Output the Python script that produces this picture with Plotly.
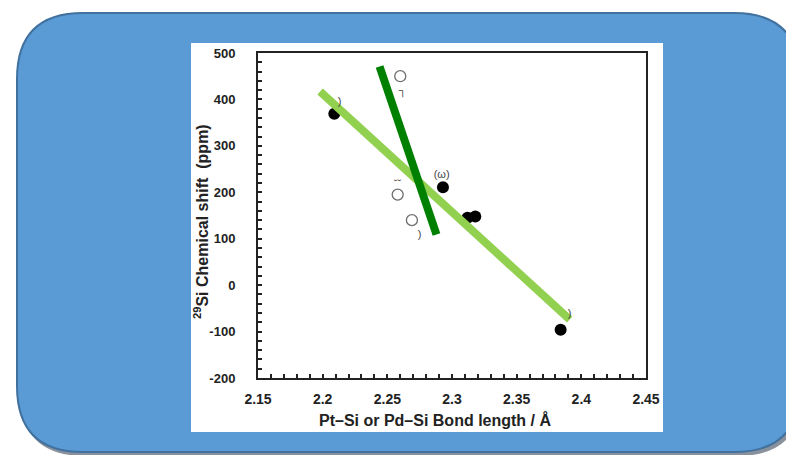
import plotly.graph_objects as go

# ---- data ----
filled_x = [2.209, 2.293, 2.312, 2.318, 2.384]
filled_y = [369, 211, 145, 148, -96]
open_x = [2.260, 2.258, 2.269]
open_y = [450, 195, 140]
fit_pt_x = [2.198, 2.391]
fit_pt_y = [417, -74]
fit_pd_x = [2.244, 2.288]
fit_pd_y = [471, 109]
x_ticks = [2.15, 2.2, 2.25, 2.3, 2.35, 2.4, 2.45]
x_tick_labels = ["2.15", "2.2", "2.25", "2.3", "2.35", "2.4", "2.45"]
y_ticks = [-200, -100, 0, 100, 200, 300, 400, 500]
y_tick_labels = ["-200", "-100", "0", "100", "200", "300", "400", "500"]
frag_x = [2.213, 2.292, 2.262, 2.258, 2.275, 2.391]
frag_y = [393, 236, 418, 218, 108, -62]
frag_text = [")", "(\u03c9)", "\u2510", "\u02d8\u02d8", ")", ")"]

# page body has an 8px margin in the browser: work in page pixels and shift
OFF = 8
W, H = 794 - OFF, 455 - OFF
L, R, T, B = 258, 646, 53, 378  # plot area in page pixels


def px(x):
    return (x - L) / (R - L)


def py(y):
    return (B - y) / (B - T)


def rr_path(x0, y0, x1, y1, r):
    return (f"M {px(x0 + r)},{py(y0)} L {px(x1 - r)},{py(y0)} "
            f"Q {px(x1)},{py(y0)} {px(x1)},{py(y0 + r)} "
            f"L {px(x1)},{py(y1 - r)} Q {px(x1)},{py(y1)} {px(x1 - r)},{py(y1)} "
            f"L {px(x0 + r)},{py(y1)} Q {px(x0)},{py(y1)} {px(x0)},{py(y1 - r)} "
            f"L {px(x0)},{py(y0 + r)} Q {px(x0)},{py(y0)} {px(x0 + r)},{py(y0)} Z")


FONT = "Liberation Sans, Arial, sans-serif"
fig = go.Figure()

fig.add_trace(go.Scatter(x=open_x, y=open_y, mode="markers",
                         marker=dict(symbol="circle", size=11, color="white",
                                     line=dict(color="#6e6e6e", width=1.3)),
                         showlegend=False))
fig.add_trace(go.Scatter(x=filled_x, y=filled_y, mode="markers",
                         marker=dict(symbol="circle", size=12, color="black"),
                         showlegend=False))
fig.add_trace(go.Scatter(x=fit_pt_x, y=fit_pt_y, mode="lines",
                         line=dict(color="#92D050", width=8), showlegend=False))
fig.add_trace(go.Scatter(x=fit_pd_x, y=fit_pd_y, mode="lines",
                         line=dict(color="#008000", width=8), showlegend=False))
fig.add_trace(go.Scatter(x=frag_x, y=frag_y, mode="text", text=frag_text,
                         textfont=dict(size=11, color="#444", family=FONT),
                         showlegend=False, hoverinfo="skip"))

shapes = [
    dict(type="path", xref="paper", yref="paper", path=rr_path(19, 15, 803, 456, 66),
         fillcolor="rgba(40,55,75,0.55)", line=dict(width=0), layer="below"),
    dict(type="path", xref="paper", yref="paper", path=rr_path(17, 13, 800, 452, 66),
         fillcolor="#5B9BD5", line=dict(color="#40719F", width=2), layer="below"),
    dict(type="rect", xref="paper", yref="paper", x0=px(191), x1=px(663), y0=py(432), y1=py(43),
         fillcolor="white", line=dict(width=0), layer="below"),
]

fig.update_layout(
    width=W, height=H,
    margin=dict(l=L - OFF, r=794 - R, t=T - OFF, b=455 - B),
    paper_bgcolor="white",
    plot_bgcolor="rgba(0,0,0,0)",
    shapes=shapes,
    font=dict(family=FONT, color="#222"),
    annotations=[
        dict(text="<sup>29</sup>Si Chemical shift  (ppm)", xref="paper", yref="paper",
             x=px(201), y=py(222), textangle=-90, showarrow=False,
             font=dict(size=16, color="#222", family=FONT, weight="bold"),
             xanchor="center", yanchor="middle"),
        dict(text="Pt\u2013Si or Pd\u2013Si Bond length / \u00c5", xref="paper", yref="paper",
             x=px(435), y=py(420), showarrow=False,
             font=dict(size=16, color="#222", family=FONT, weight="bold"),
             xanchor="center", yanchor="middle"),
    ],
)

fig.update_xaxes(range=[2.15, 2.45], tickvals=x_ticks, ticktext=x_tick_labels,
                 showline=True, mirror=True, linecolor="#222", linewidth=2,
                 ticks="inside", ticklen=4, tickcolor="#222", tickwidth=1.5,
                 minor=dict(dtick=0.01, ticks="inside", ticklen=4, tickcolor="#222"),
                 showgrid=False, zeroline=False,
                 tickfont=dict(size=14, color="#222", family=FONT, weight="bold"),
                 ticklabelstandoff=7)
fig.update_yaxes(range=[-200, 500], tickvals=y_ticks, ticktext=y_tick_labels,
                 showline=True, mirror=True, linecolor="#222", linewidth=2,
                 ticks="inside", ticklen=4, tickcolor="#222", tickwidth=1.5,
                 minor=dict(dtick=20, ticks="inside", ticklen=4, tickcolor="#222"),
                 showgrid=False, zeroline=False,
                 tickfont=dict(size=13, color="#222", family=FONT, weight="bold"),
                 ticklabelstandoff=18)

fig.write_html("out.html")
